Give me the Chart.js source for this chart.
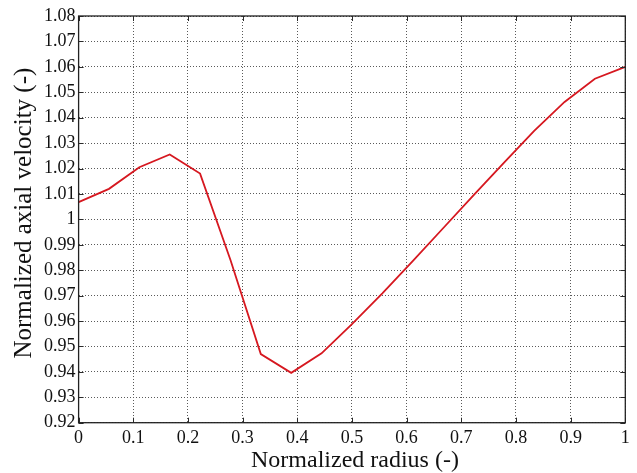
<!DOCTYPE html>
<html>
<head>
<meta charset="utf-8">
<script src="https://cdn.jsdelivr.net/npm/chart.js@4.4.1/dist/chart.umd.min.js"></script>
<style>
  html, body { margin: 0; padding: 0; background: #ffffff; }
  #wrap { width: 637px; height: 473px; position: relative; }
</style>
</head>
<body>
<div id="wrap"><canvas id="c" width="637" height="473"></canvas></div>
<script>
const radius = [0, 0.0556, 0.1111, 0.1667, 0.2222, 0.2778, 0.3333, 0.3889, 0.4444, 0.5, 0.5556, 0.6111, 0.6667, 0.7222, 0.7778, 0.8333, 0.8889, 0.9444, 1];
const velocity = [1.0068, 1.0120, 1.0205, 1.0255, 1.0180, 0.9840, 0.9470, 0.9396, 0.9473, 0.9588, 0.9709, 0.9836, 0.9965, 1.0094, 1.0222, 1.0348, 1.0462, 1.0553, 1.0600];
const xTicks = [0, 0.1, 0.2, 0.3, 0.4, 0.5, 0.6, 0.7, 0.8, 0.9, 1];
const yTicks = [0.92, 0.93, 0.94, 0.95, 0.96, 0.97, 0.98, 0.99, 1, 1.01, 1.02, 1.03, 1.04, 1.05, 1.06, 1.07, 1.08];
const xTitle = ' Normalized radius (-)';
const yTitle = '  Normalized axial velocity (-)';

const fmt = v => String(parseFloat(Number(v).toFixed(2)));

const boxPlugin = {
  id: 'box',
  afterDraw(chart) {
    const {ctx, chartArea: a, scales: {x, y}} = chart;
    ctx.save();
    ctx.strokeStyle = '#2a2a2a';
    ctx.lineWidth = 1;
    const tl = 5;
    ctx.beginPath();
    x.ticks.forEach(t => {
      const px = Math.round(x.getPixelForValue(t.value)) + 0.5;
      ctx.moveTo(px, a.bottom); ctx.lineTo(px, a.bottom - tl);
      ctx.moveTo(px, a.top); ctx.lineTo(px, a.top + tl);
    });
    y.ticks.forEach(t => {
      const py = Math.round(y.getPixelForValue(t.value)) + 0.5;
      ctx.moveTo(a.left, py); ctx.lineTo(a.left + tl, py);
      ctx.moveTo(a.right, py); ctx.lineTo(a.right - tl, py);
    });
    ctx.stroke();
    ctx.lineWidth = 1.3;
    ctx.strokeStyle = '#222';
    ctx.strokeRect(a.left, a.top, a.right - a.left, a.bottom - a.top);
    ctx.restore();
  }
};

new Chart(document.getElementById('c'), {
  type: 'line',
  data: {
    datasets: [{
      data: radius.map((r, i) => ({x: r, y: velocity[i]})),
      borderColor: 'rgb(214, 24, 32)',
      borderWidth: 1.8,
      pointRadius: 0,
      tension: 0,
      fill: false
    }]
  },
  options: {
    responsive: false,
    animation: false,
    devicePixelRatio: 1,
    layout: { padding: { top: 16, right: 11.7, bottom: 0, left: 0 } },
    plugins: { legend: { display: false }, tooltip: { enabled: false } },
    scales: {
      x: {
        type: 'linear',
        min: 0, max: 1,
        afterBuildTicks: s => { s.ticks = xTicks.map(v => ({value: v})); },
        afterFit: s => { s.height = 50.3; },
        grid: { color: '#5a5a5a', lineWidth: 1, drawTicks: false },
        border: { display: false, dash: [1, 2] },
        ticks: {
          padding: 5,
          color: '#111',
          font: { family: 'Liberation Serif', size: 18 },
          maxRotation: 0,
          autoSkip: false,
          callback: v => fmt(v)
        },
        title: {
          display: true, text: xTitle, color: '#111',
          font: { family: 'Liberation Serif', size: 24, lineHeight: 1 },
          padding: { top: 0, bottom: 0 }
        }
      },
      y: {
        type: 'linear',
        min: 0.92, max: 1.08,
        afterBuildTicks: s => { s.ticks = yTicks.map(v => ({value: v})); },
        afterFit: s => { s.width = 78.6; },
        grid: { color: '#5a5a5a', lineWidth: 1, drawTicks: false },
        border: { display: false, dash: [1, 2] },
        ticks: {
          padding: 3,
          color: '#111',
          font: { family: 'Liberation Serif', size: 18 },
          autoSkip: false,
          callback: v => fmt(v)
        },
        title: {
          display: true, text: yTitle, color: '#111',
          font: { family: 'Liberation Serif', size: 25, lineHeight: 1 },
          padding: { top: 12, bottom: 0 }
        }
      }
    }
  },
  plugins: [boxPlugin]
});
</script>
</body>
</html>
